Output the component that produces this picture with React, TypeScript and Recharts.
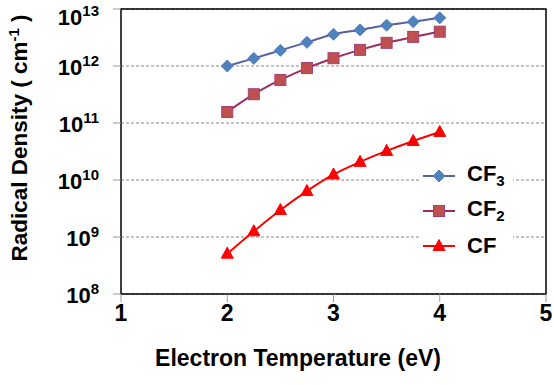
import { LineChart, Line, XAxis, YAxis, CartesianGrid, ReferenceArea } from 'recharts';

const temps = [2, 2.25, 2.5, 2.75, 3, 3.25, 3.5, 3.75, 4];
const cf3 = [1.0e12, 1.36e12, 1.88e12, 2.6e12, 3.6e12, 4.3e12, 5.2e12, 6.0e12, 7.0e12];
const cf2 = [1.56e11, 3.2e11, 5.7e11, 9.2e11, 1.37e12, 1.92e12, 2.55e12, 3.24e12, 4.0e12];
const cf = [5.1e8, 1.26e9, 2.98e9, 6.4e9, 1.25e10, 2.08e10, 3.24e10, 4.84e10, 6.97e10];
const xTicks = [1, 2, 3, 4, 5];
const yTicks = [1e8, 1e9, 1e10, 1e11, 1e12, 1e13];

const data = temps.map((t, i) => ({ t, cf3: cf3[i], cf2: cf2[i], cf: cf[i] }));

const FONT = '"Liberation Sans", Arial, sans-serif';

const series = [
    { key: 'cf3', name: 'CF', sub: '3', line: '#5a5fa3', fill: '#4f81bd', stroke: '#4f81bd', shape: 'diamond' },
    { key: 'cf2', name: 'CF', sub: '2', line: '#9b2d5e', fill: '#c0504d', stroke: '#a0407a', shape: 'square' },
    { key: 'cf', name: 'CF', sub: '', line: '#ff0000', fill: '#ff0000', stroke: '#ff0000', shape: 'triangle' },
];

const Marker = ({ cx, cy, shape, fill, stroke }: any) => {
    if (cx == null || cy == null) return null;
    if (shape === 'diamond') {
        return <polygon points={`${cx},${cy - 6} ${cx + 6},${cy} ${cx},${cy + 6} ${cx - 6},${cy}`} fill={fill} stroke={stroke} />;
    }
    if (shape === 'square') {
        return <rect x={cx - 5.5} y={cy - 5.5} width={11} height={11} fill={fill} stroke={stroke} strokeWidth={1} />;
    }
    return <polygon points={`${cx},${cy - 6.5} ${cx + 6},${cy + 4.5} ${cx - 6},${cy + 4.5}`} fill={fill} stroke={stroke} />;
};

const YTick = ({ x, y, payload }: any) => {
    const exp = Math.round(Math.log10(payload.value));
    const base = Math.max(y + 9, 25);
    return (
        <text x={x - 12} y={base} textAnchor="end" fontFamily={FONT} fontWeight="bold" fontSize={22} fill="#000">
            <tspan>10</tspan>
            <tspan dy={-9} fontSize={15}>{exp}</tspan>
        </text>
    );
};

const XTick = ({ x, y, payload }: any) => (
    <text x={x} y={y + 17} textAnchor="middle" fontFamily={FONT} fontWeight="bold" fontSize={23} fill="#000">
        {payload.value}
    </text>
);

const LegendBox = () => (
    <div style={{ position: 'absolute', left: 421, top: 156, background: '#fff', width: 92, padding: '2px 0', fontFamily: FONT, fontWeight: 'bold', fontSize: 22 }}>
        {series.map((s) => (
            <div key={s.key} style={{ display: 'flex', alignItems: 'center', height: 35 }}>
                <svg width={46} height={20}>
                    <line x1={2} x2={34} y1={10} y2={10} stroke={s.line} strokeWidth={2} />
                    <Marker cx={18} cy={10} shape={s.shape} fill={s.fill} stroke={s.stroke} />
                </svg>
                <span>
                    {s.name}
                    {s.sub && <sub style={{ fontSize: 15 }}>{s.sub}</sub>}
                </span>
            </div>
        ))}
    </div>
);

export default function App() {
    return (
        <div style={{ position: 'absolute', left: 0, top: 0, width: 554, height: 385, background: '#fff' }}>
            <LineChart width={554} height={385} data={data} margin={{ top: 9, right: 8, left: 0, bottom: 0 }}>
                <CartesianGrid vertical={false} stroke="#888" strokeDasharray="3 2" />
                <XAxis
                    dataKey="t"
                    type="number"
                    domain={[1, 5]}
                    ticks={xTicks}
                    height={91}
                    tickSize={8}
                    tickLine={{ stroke: '#999' }}
                    axisLine={false}
                    tick={<XTick />}
                />
                <YAxis
                    type="number"
                    scale="log"
                    domain={[1e8, 1e13]}
                    ticks={yTicks}
                    width={121}
                    tickSize={8}
                    tickLine={{ stroke: '#999' }}
                    axisLine={false}
                    tick={<YTick />}
                    allowDataOverflow
                />
                <ReferenceArea x1={1} x2={5} y1={1e8} y2={1e13} fill="none" stroke="#000" strokeWidth={1.5} ifOverflow="visible" />
                {series.map((s) => (
                    <Line
                        key={s.key}
                        dataKey={s.key}
                        type="monotone"
                        stroke={s.line}
                        strokeWidth={2}
                        isAnimationActive={false}
                        dot={(p: any) => <Marker key={p.index} cx={p.cx} cy={p.cy} shape={s.shape} fill={s.fill} stroke={s.stroke} />}
                        activeDot={false}
                    />
                ))}
                <text x={298} y={366} textAnchor="middle" fontFamily={FONT} fontWeight="bold" fontSize={23} fill="#000">
                    Electron Temperature (eV)
                </text>
                <text transform="translate(27,138) rotate(-90)" textAnchor="middle" fontFamily={FONT} fontWeight="bold" fontSize={22.5} fill="#000">
                    Radical Density ( cm
                    <tspan dy={-8} fontSize={15}>-1</tspan>
                    <tspan dy={8}> )</tspan>
                </text>
            </LineChart>
            <LegendBox />
        </div>
    );
}
